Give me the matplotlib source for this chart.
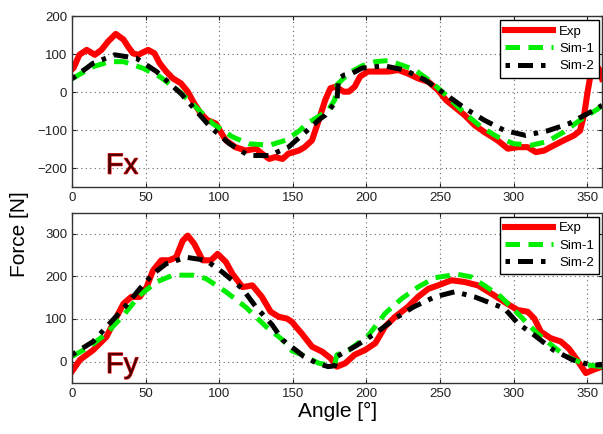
import matplotlib
matplotlib.use("Agg")
import matplotlib.pyplot as plt
import matplotlib.patheffects as pe

plt.rcParams["font.family"] = ["Liberation Sans", "DejaVu Sans"]

# ---- Fx (top panel) ----
fx_exp_ang = [0, 1, 5, 10, 15.5, 20, 24.5, 29.7, 35, 38, 41.4, 45, 48, 51.7, 56, 59.5,
              64, 68.5, 74, 78.6, 83, 87.6, 92, 97.7, 101, 104.5, 111, 118, 125, 129,
              134, 138, 143, 147, 154, 158, 163, 167.6, 172, 175.5, 179, 184.5, 188,
              192, 195.7, 201, 208, 215, 221.6, 228, 235, 242, 248.6, 254, 261, 266.7,
              273.4, 280, 289, 296, 302.7, 309.5, 315, 320.7, 325, 332, 341, 345,
              348, 350, 352, 355.6, 358, 360]
fx_exp_val = [60, 63, 98, 111, 98, 111, 133, 153, 138, 120, 102, 98, 104, 111, 102, 76,
              54, 36, 23, 1, -30, -57, -74, -83, -105, -127, -145, -154, -149, -162,
              -176, -171, -176, -162, -154, -145, -127, -74, -21, 10, 14, 1, 1,
              14, 41, 54, 54, 54, 58, 49, 36, 27, 5, -21, -43, -61,
              -87, -105, -127, -149, -145, -145, -158, -154, -145, -131, -114, -102,
              -57, -4, 41, 72, 60, 35]

fx_sim1_ang = [0, 14.4, 25.7, 35, 48, 59.5, 73, 84, 95.5, 109, 120, 134, 145, 154, 160,
               168, 174, 178.5, 180, 188, 197, 206, 215, 224, 233, 244, 255, 267, 278,
               289, 300, 312, 323, 334, 345, 357, 360]
fx_sim1_val = [35, 67, 80, 80, 63, 41, 1, -39, -83, -118, -136, -140, -127, -103, -82,
               -63, -48, -20, 19, 50, 69, 80, 83, 71, 58, 27, -12, -57, -92,
               -118, -136, -140, -130, -105, -74, -45, -35]

fx_sim2_ang = [0, 14.4, 29, 43.7, 57.4, 74, 84, 94, 107, 120, 134, 147, 158.6, 168.7,
               172, 180, 181, 185, 190, 197, 212, 226, 239.7, 253, 267, 280, 293.7,
               308, 323, 337.6, 350, 354.5, 360]
fx_sim2_val = [35, 76, 98, 89, 54, -4, -48, -92, -136, -167, -167, -145, -105, -70,
               -61, -21, 36, 45, 49, 63, 69, 58, 32, -4, -43, -74, -101,
               -114, -102, -83, -57, -48, -35]

# ---- Fy (bottom panel) ----
fy_exp_ang = [0, 5.4, 14.4, 23.4, 29, 35, 40.3, 46, 50.7, 55, 60.6, 66, 70.7, 75.2, 78.6,
              83, 88.7, 94.4, 98.9, 104.5, 109, 115.8, 122.5, 129, 134.9, 140.5, 146,
              149.5, 152, 156, 163, 170, 175.5, 180, 185.6, 192, 199, 206, 212.6, 219.4,
              228, 235, 242, 248.6, 257.7, 266.7, 275.7, 284.7, 293.7, 302.7, 309.5,
              314, 318.5, 325, 332, 337.6, 343, 349, 354.5, 360]
fy_exp_val = [-23, 4, 27, 58, 97, 136, 152, 152, 175, 214, 238, 238, 245, 284, 296,
              277, 238, 238, 253, 234, 206, 175, 179, 152, 117, 105, 101,
              93, 82, 66, 35, 23, 8, -12, -4, 16, 27, 43, 82, 105,
              128, 152, 171, 179, 191, 187, 179, 160, 140, 121, 117,
              101, 70, 55, 47, 30, 4, -27, -19, -12]

fy_sim1_ang = [0, 12, 23.4, 35, 46, 57.4, 68.5, 82, 91, 104.5, 118, 131.8, 143, 149.5,
               156, 167.6, 174, 178.5, 180, 188, 201, 212.6, 224, 235, 246.4, 257.7,
               262, 271, 280, 291.4, 302.7, 316, 327, 334, 341, 350, 360]
fy_sim1_val = [12, 35, 66, 109, 156, 187, 203, 203, 195, 164, 128, 82, 51, 25,
               16, -4, -8, -6, 16, 27, 60, 113, 148, 175, 197, 203,
               205, 199, 179, 152, 113, 66, 35, 16, 4, -8, -12]

fy_sim2_ang = [0, 14.4, 25.7, 35.8, 46, 55, 64, 77.7, 91, 102.2, 115.8, 125, 136, 143,
               147.3, 152, 157.4, 166.4, 174, 178.5, 180, 192, 206, 219.4, 231.8,
               246.4, 260, 273.4, 293.7, 302.7, 314, 327, 340, 352, 360]
fy_sim2_val = [16, 47, 90, 128, 171, 206, 230, 245, 238, 210, 171, 128, 86, 51,
               39, 27, 12, -4, -12, -10, 12, 35, 66, 101, 128,
               152, 164, 152, 125, 90, 62, 27, 4, -8, -8]

x_ticks = [0, 50, 100, 150, 200, 250, 300, 350]
fx_yticks = [-200, -100, 0, 100, 200]
fy_yticks = [0, 100, 200, 300]


def draw_panel(ax, ang_e, val_e, ang_1, val_1, ang_2, val_2, ylim, yticks, name, name_y):
    ax.plot(ang_e, val_e, color="#ff0000", lw=4.4, label="Exp", solid_joinstyle="round")
    ax.plot(ang_1, val_1, color="#00ee00", lw=3.6, dashes=[2.9, 1.7], label="Sim-1")
    ax.plot(ang_2, val_2, color="black", lw=3.6, dashes=[0.9, 1.6, 3.0, 1.6], label="Sim-2")
    ax.set_xlim(0, 360)
    ax.set_ylim(*ylim)
    ax.set_xticks(x_ticks)
    ax.set_yticks(yticks)
    ax.grid(True, linestyle=(0, (1, 3)), color="#666666", lw=0.8)
    ax.tick_params(direction="in", top=True, right=True, labelsize=9.5,
                   colors="#222222", length=3)
    for s in ax.spines.values():
        s.set_color("#333333")
        s.set_linewidth(1.0)
    ax.text(23, name_y, name, fontsize=21, color="#4a0000",
            path_effects=[pe.withStroke(linewidth=0.9, foreground="#ff2020")])
    leg = ax.legend(loc="upper right", bbox_to_anchor=(0.995, 0.975), borderaxespad=0,
                    fontsize=9.5, handlelength=3.6, fancybox=False, framealpha=1,
                    edgecolor="black", borderpad=0.4, labelspacing=0.38,
                    handletextpad=0.5)
    leg.get_frame().set_linewidth(1.0)


fig = plt.figure(figsize=(6.03, 4.34), dpi=100)
ax1 = fig.add_axes([0.1194, 0.569, 0.879, 0.394])
ax2 = fig.add_axes([0.1194, 0.118, 0.879, 0.392])

draw_panel(ax1, fx_exp_ang, fx_exp_val, fx_sim1_ang, fx_sim1_val, fx_sim2_ang,
           fx_sim2_val, (-250, 200), fx_yticks, "Fx", -215)
draw_panel(ax2, fy_exp_ang, fy_exp_val, fy_sim1_ang, fy_sim1_val, fy_sim2_ang,
           fy_sim2_val, (-50, 350), fy_yticks, "Fy", -27)

fig.text(0.032, 0.46, "Force [N]", rotation=90, fontsize=15, ha="center", va="center")
fig.text(0.559, 0.051, "Angle [°]", fontsize=15, ha="center", va="center")

fig.savefig("out.png", dpi=100)
plt.close(fig)
